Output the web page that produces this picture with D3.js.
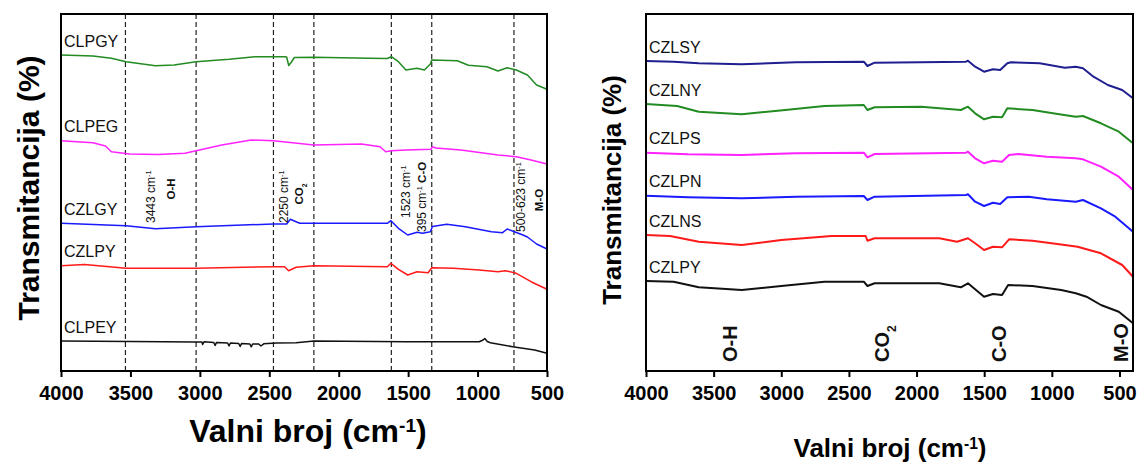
<!DOCTYPE html>
<html><head><meta charset="utf-8">
<script src="https://cdn.jsdelivr.net/npm/d3@7/dist/d3.min.js"></script>
<style>body{margin:0;background:#fff}</style>
</head><body>
<svg id="c" width="1142" height="465"></svg>
<script>
// ---------- DATA (wavenumber cm^-1, transmittance a.u. with offsets) ----------
const xTicks = [4000, 3500, 3000, 2500, 2000, 1500, 1000, 500];

// Left panel
const CLPGY = [[4000,316],[3770,315],[3637,312.7],[3532,309.3],[3319,305.3],[3186,306],[3027,309.3],[2789,311.7],[2603,314.3],[2390,314.3],[2375,314],[2360,305.5],[2340,309],[2320,313.5],[2178,313.7],[1782,312.7],[1650,312.5],[1621,314.3],[1570,309.3],[1516,301],[1436,302.7],[1383,301],[1340,307],[1330,311],[1146,310.3],[1066,305.7],[933,304.3],[853,300],[787,303.3],[721,301],[641,296],[575,286],[500,281.7]];
const CLPEG = [[4000,230.3],[3770,228.3],[3680,225],[3637,219.3],[3505,217],[3300,216.5],[3107,217.7],[2842,226],[2630,231],[2470,230.3],[2179,226],[1835,227],[1703,224.3],[1662,219.3],[1621,220.3],[1516,221],[1335,221.7],[1325,224.3],[1300,223],[1120,221],[853,216],[721,214.3],[615,211],[500,207]];
const CZLGY = [[4000,147.7],[3532,145.3],[3319,142.3],[3027,144.3],[2470,147],[2375,147],[2348,151.7],[2307,149.3],[2280,147.7],[1650,147.7],[1624,150.3],[1570,142.7],[1503,136],[1436,138.7],[1396,137.7],[1340,139.3],[1325,144.5],[1222,146.7],[1088,144.3],[900,139.3],[820,138.3],[787,142],[735,139.3],[673,136],[641,134],[575,127],[500,122]];
const CZLPY_L = [[4000,105.3],[3830,106.5],[3532,102.7],[3027,102.7],[2470,104.3],[2390,104.3],[2361,100.3],[2307,103.7],[2178,105.3],[1650,104.3],[1624,107.7],[1570,101.7],[1503,96],[1436,99.3],[1356,98.3],[1330,103.3],[1175,102.7],[988,101],[853,99.3],[800,100.3],[721,97.7],[615,89.3],[500,81.7]];
const CLPEY = [[4000,30],[3258,29.3],[3050,29],[2985,29],[2980,26.5],[2970,29.2],[2900,28.5],[2890,25.5],[2880,28.6],[2800,28],[2790,25.2],[2780,28],[2720,27.5],[2710,24.5],[2700,27.4],[2640,27],[2630,24.2],[2620,27],[2576,27],[2560,25],[2540,27.2],[2450,28],[2307,28.3],[2178,30],[1516,29.3],[988,29.3],[960,31],[948,32.5],[930,29.5],[908,28.3],[748,24.3],[589,21],[500,17.7]];

// Right panel
const CZLSY = [[4000,310],[3796,309.3],[3610,307.7],[3292,306.7],[2894,308.7],[2390,309.3],[2363,305],[2310,308.3],[1634,309.3],[1620,310.3],[1567,304.3],[1501,299.3],[1435,301.7],[1382,301],[1329,307.7],[1302,308.7],[1090,307.7],[904,303.3],[823,304.3],[770,302.7],[692,294.3],[586,286],[480,281],[400,272.7]];
const CZLNY = [[4000,267],[3770,265],[3610,259.3],[3292,256.7],[3026,260.3],[2681,265],[2390,266],[2363,261],[2310,263.7],[1965,264.3],[1673,261],[1620,264.3],[1567,257.7],[1501,251.7],[1435,254.3],[1368,253.7],[1329,262.7],[1143,261],[957,257],[823,254.3],[770,255],[637,247.7],[505,239.3],[400,227.7]];
const CZLPS = [[4000,218.3],[3690,216.7],[3292,216],[2894,217.7],[2390,218.3],[2363,213.7],[2310,217],[1634,218.3],[1620,219.3],[1567,212.7],[1501,207.7],[1435,210.3],[1368,209.3],[1316,216],[1249,217],[1037,214.3],[823,212.7],[770,211.7],[637,204.3],[505,194.3],[400,181]];
const CZLPN = [[4000,175.3],[3690,173.7],[3292,172.7],[2894,174.3],[2390,175],[2363,171],[2310,174.3],[1634,176],[1620,176.7],[1567,169.3],[1501,165],[1435,168.3],[1382,167],[1329,173.7],[1169,174.3],[1037,171.7],[823,169.3],[770,171],[637,162.7],[531,154.3],[400,139.3]];
const CZLNS = [[4000,136],[3822,135],[3610,129.3],[3292,126],[3000,131],[2628,135],[2376,135],[2363,130.3],[2310,132.7],[1832,132.7],[1700,129.3],[1620,132.7],[1567,127.7],[1501,121],[1435,124.3],[1368,123.7],[1316,131.7],[1143,130.3],[904,126],[810,124.3],[637,117.7],[480,106],[400,94.3]];
const CZLPY_R = [[4000,90],[3796,89.3],[3610,83.7],[3292,81],[3000,85],[2681,89.3],[2390,89.3],[2363,85],[2310,87.7],[1832,87.7],[1673,83.7],[1620,87.7],[1567,81.7],[1501,74.3],[1435,77],[1368,76],[1323,86],[1143,85],[931,81],[823,77.7],[744,74.3],[637,66],[505,59.3],[400,47.7]];

// Reference lines & band annotations (left panel)
const dashedLines = [3536, 3027, 2470, 2179, 1621, 1330, 738];
const leftNotes = [
  {w:3323, v:148, parts:[["3443 cm",0],["-1",1]]},
  {w:3179, v:182, mid:true, parts:[["O-H",2]]},
  {w:2365, v:148, parts:[["2250 cm",0],["-1",1]]},
  {w:2257, v:177, mid:true, parts:[["CO",2],["2",3]]},
  {w:1487, v:153, parts:[["1523 cm",0],["-1",1]]},
  {w:1371, v:139, parts:[["395 cm",0],["-1",1],["  ",0],["C-O",2]]},
  {w:659,  v:139, parts:[["500-623 cm",0],["-1",1]]},
  {w:526,  v:171, mid:true, parts:[["M-O",2]]}
];
const rightNotes = [
  {w:3327, v:9, parts:[["O-H",2]]},
  {w:2204, v:9, parts:[["CO",2],["2",3]]},
  {w:1339, v:9, parts:[["C-O",2]]},
  {w:437,  v:9, parts:[["M-O",2]]}
];

// ---------- DRAW ----------
const FONT = "'Liberation Sans', Arial, Helvetica, sans-serif";
const svg = d3.select('#c');

function drawPanel(cfg) {
  const x = d3.scaleLinear().domain(cfg.xDomain).range([cfg.left, cfg.right]);
  const y = d3.scaleLinear().domain([0, 357]).range([371, 14]);
  const g = svg.append('g');

  (cfg.dashed || []).forEach(w => {
    g.append('line').attr('x1', x(w)).attr('x2', x(w)).attr('y1', y(357)).attr('y2', y(0))
      .attr('stroke', '#222').attr('stroke-width', 1.2).attr('stroke-dasharray', '5,3');
  });

  const line = d3.line().x(d => x(d[0])).y(d => y(d[1]));
  cfg.series.forEach(s => {
    g.append('path').attr('d', line(s.data)).attr('fill', 'none')
      .attr('stroke', s.color).attr('stroke-width', cfg.lw).attr('stroke-linejoin', 'round');
    g.append('text').attr('x', x(cfg.xDomain[0]) + 3).attr('y', y(s.data[0][1]) - 8.5)
      .attr('font-family', FONT).attr('font-size', 16).attr('fill', '#111').text(s.name);
  });

  cfg.notes.forEach(n => {
    const t = g.append('text')
      .attr('transform', `translate(${x(n.w)},${y(n.v)}) rotate(-90)`)
      .attr('font-family', FONT).attr('fill', '#111')
      .attr('text-anchor', n.mid ? 'middle' : 'start');
    n.parts.forEach(p => {
      const ts = t.append('tspan').text(p[0]);
      if (p[1] === 0) ts.attr('font-size', cfg.noteSize);
      if (p[1] === 1) ts.attr('font-size', cfg.noteSize * 0.6).attr('baseline-shift', 'super');
      if (p[1] === 2) ts.attr('font-size', cfg.boldSize).attr('font-weight', 'bold');
      if (p[1] === 3) ts.attr('font-size', cfg.boldSize * 0.6).attr('font-weight', 'bold').attr('baseline-shift', 'sub');
    });
  });

  const ax = g.append('g').attr('transform', 'translate(0,371)')
    .call(d3.axisBottom(x).tickValues(xTicks).tickSize(6).tickSizeOuter(0).tickPadding(9).tickFormat(d3.format('d')));
  ax.select('.domain').remove();
  ax.selectAll('line').attr('stroke', '#000').attr('stroke-width', 2);
  ax.selectAll('text').attr('font-family', FONT).attr('font-weight', 'bold')
    .attr('font-size', cfg.tickSize).attr('fill', '#000');

  g.append('rect').attr('x', cfg.left).attr('y', 14).attr('width', cfg.right - cfg.left).attr('height', 357)
    .attr('fill', 'none').attr('stroke', '#000').attr('stroke-width', 2);

  g.append('text').attr('transform', `translate(${cfg.yTitle[0]},${cfg.yTitle[1]}) rotate(-90)`)
    .attr('text-anchor', 'middle').attr('font-family', FONT).attr('font-weight', 'bold')
    .attr('font-size', cfg.yTitleSize).attr('fill', '#000').text('Transmitancija (%)');

  const xt = g.append('text').attr('x', cfg.xTitle[0]).attr('y', cfg.xTitle[1])
    .attr('text-anchor', 'middle').attr('font-family', FONT).attr('font-weight', 'bold')
    .attr('font-size', cfg.xTitleSize).attr('fill', '#000');
  xt.append('tspan').text('Valni broj (cm');
  xt.append('tspan').attr('font-size', cfg.xTitleSize * 0.6).attr('baseline-shift', 'super').text('-1');
  xt.append('tspan').text(')');
}

drawPanel({
  left: 61, right: 547, xDomain: [4000, 500], lw: 1.5,
  dashed: dashedLines, notes: leftNotes, noteSize: 12, boldSize: 11.5,
  tickSize: 20, yTitle: [39, 188], yTitleSize: 30, xTitle: [308, 442], xTitleSize: 32,
  series: [
    {name: 'CLPGY', color: '#228b22', data: CLPGY},
    {name: 'CLPEG', color: '#ff22ff', data: CLPEG},
    {name: 'CZLGY', color: '#1a1aff', data: CZLGY},
    {name: 'CZLPY', color: '#ff1a1a', data: CZLPY_L},
    {name: 'CLPEY', color: '#111111', data: CLPEY}
  ]
});

drawPanel({
  left: 646, right: 1133, xDomain: [4000, 400], lw: 2,
  dashed: [], notes: rightNotes, noteSize: 20, boldSize: 20,
  tickSize: 20, yTitle: [621, 190], yTitleSize: 26, xTitle: [890, 457], xTitleSize: 26,
  series: [
    {name: 'CZLSY', color: '#1f1f90', data: CZLSY},
    {name: 'CZLNY', color: '#228b22', data: CZLNY},
    {name: 'CZLPS', color: '#ff22ff', data: CZLPS},
    {name: 'CZLPN', color: '#1a1aff', data: CZLPN},
    {name: 'CZLNS', color: '#ff1a1a', data: CZLNS},
    {name: 'CZLPY', color: '#111111', data: CZLPY_R}
  ]
});
</script>
</body></html>
